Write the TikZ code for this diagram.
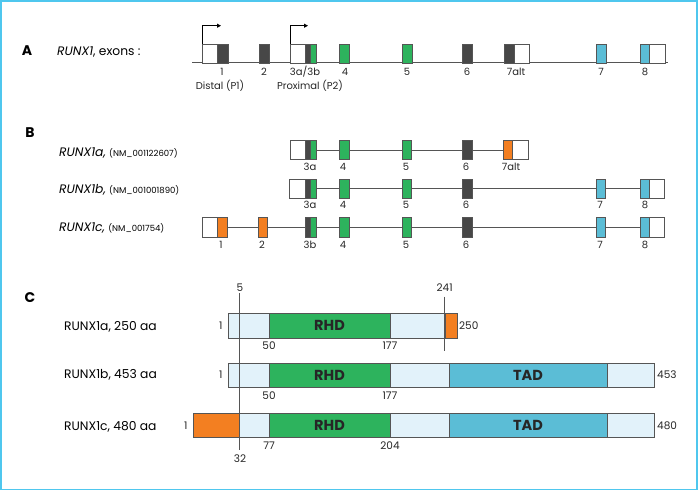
\documentclass[tikz,border=0pt]{standalone}
\usepackage{fontspec}
\setmainfont{Poppins}
\usetikzlibrary{arrows.meta}
\definecolor{dk}{HTML}{474747}
\definecolor{gr}{HTML}{2DB35D}
\definecolor{bl}{HTML}{5BBDD6}
\definecolor{orn}{HTML}{F37F21}
\definecolor{lb}{HTML}{E2F2FA}
\definecolor{frm}{HTML}{4FC7EE}
\definecolor{ln}{HTML}{555555}
\tikzset{
  bx/.style={draw=ln,line width=0.8pt,inner sep=0pt,anchor=north west},
  gline/.style={draw=ln,line width=0.8pt},
  num/.style={font=\fontsize{10}{11}\selectfont,inner sep=0pt,text=black!85},
  lab/.style={font=\fontsize{12.3}{13}\selectfont,inner sep=0pt,anchor=west},
  panel/.style={font=\fontsize{14}{15}\selectfont\bfseries,inner sep=0pt},
  dom/.style={font=\fontsize{14.5}{15}\selectfont\bfseries,inner sep=0pt,text=black!85},
  tss/.style={draw=black,line width=0.8pt,-{Triangle[length=4pt,width=4pt]}}
}
\newcommand\bxa[5]{\node[bx,fill=#4,minimum width=#3pt-#2pt,minimum height=#5pt] (#1) at (#2,\toprow) {};}
\begin{document}
\begin{tikzpicture}[x=1pt,y=-1pt]
\useasboundingbox (0,0) rectangle (700,491);
\draw[frm,line width=1.6pt] (1,1) rectangle (697,489.5);

% ---------------- Panel A ----------------
\node[panel] (pA) at (27,51) {A};
\node[lab] (tA) at (57,52) {\textit{RUNX1}, exons :};
\coordinate (a0) at (192,62.7);
\coordinate (a1) at (668,62.7);
\draw[gline] (a0) -- (a1);
\def\toprow{43.7}
\bxa{A1w}{202}{217}{white}{19}
\bxa{A1d}{217}{228}{dk}{19}
\bxa{A2}{259}{269}{dk}{19}
\bxa{A3w}{290}{305}{white}{19}
\bxa{A3d}{305}{310}{dk}{19}
\bxa{A3g}{310}{316}{gr}{19}
\bxa{A4}{339}{349}{gr}{19}
\bxa{A5}{402}{412}{gr}{19}
\bxa{A6}{462}{472}{dk}{19}
\bxa{A7ad}{504}{514}{dk}{19}
\bxa{A7aw}{514}{529}{white}{19}
\bxa{A7}{596}{606}{bl}{19}
\bxa{A8b}{640}{649}{bl}{19}
\bxa{A8w}{649}{665}{white}{19}
\coordinate (p1) at (202,25.7);
\coordinate (p1e) at (221,25.7);
\coordinate (p2) at (290,25.7);
\coordinate (p2e) at (308,25.7);
\draw[tss] (A1w.north west) -- (p1) -- (p1e);
\draw[tss] (A3w.north west) -- (p2) -- (p2e);
\node[num] (nA1) at (222,72) {1};
\node[num] (nA2) at (264,72) {2};
\node[num] (nA3) at (305,72) {3a/3b};
\node[num] (nA4) at (345,72) {4};
\node[num] (nA5) at (407,72) {5};
\node[num] (nA6) at (467,72) {6};
\node[num] (nA7a) at (516,72) {7alt};
\node[num] (nA7) at (601,72) {7};
\node[num] (nA8) at (645,72) {8};
\node[num] (dP1) at (220,86) {Distal (P1)};
\node[num] (dP2) at (310,86) {Proximal (P2)};

% ---------------- Panel B ----------------
\node[panel] (pB) at (30,133) {B};
\node[lab] (tBa) at (59,153) {\textit{RUNX1a,} {\fontsize{8.5}{9}\selectfont (NM\_001122607)}};
\node[lab] (tBb) at (59,190) {\textit{RUNX1b,} {\fontsize{8.5}{9}\selectfont (NM\_001001890)}};
\node[lab] (tBc) at (59,228) {\textit{RUNX1c,} {\fontsize{8.5}{9}\selectfont (NM\_001754)}};

% row a
\def\toprow{140}
\bxa{a3w}{290}{305}{white}{19.3}
\bxa{a3d}{305}{310}{dk}{19.3}
\bxa{a3g}{310}{316}{gr}{19.3}
\bxa{a4}{339}{349}{gr}{19.3}
\bxa{a5}{402}{411}{gr}{19.3}
\bxa{a6}{462}{472}{dk}{19.3}
\bxa{a7o}{503}{512}{orn}{19.3}
\bxa{a7w}{512}{528}{white}{19.3}
\draw[gline] (a3g.east) -- (a4.west) (a4.east) -- (a5.west) (a5.east) -- (a6.west) (a6.east) -- (a7o.west);
\node[num] at (310,167) (la3) {3a};
\node[num] at (343,167) (la4) {4};
\node[num] at (406,167) (la5) {5};
\node[num] at (466,167) (la6) {6};
\node[num] at (511,167) (la7) {7alt};

% row b
\def\toprow{178.7}
\bxa{b3w}{289}{305}{white}{19}
\bxa{b3d}{305}{310}{dk}{19}
\bxa{b3g}{310}{316}{gr}{19}
\bxa{b4}{339}{349}{gr}{19}
\bxa{b5}{402}{411}{gr}{19}
\bxa{b6}{462}{472}{dk}{19}
\bxa{b7}{596}{605}{bl}{19}
\bxa{b8b}{640}{649}{bl}{19}
\bxa{b8w}{649}{664}{white}{19}
\draw[gline] (b3g.east) -- (b4.west) (b4.east) -- (b5.west) (b5.east) -- (b6.west) (b6.east) -- (b7.west) (b7.east) -- (b8b.west);
\node[num] at (310,205) (lb3) {3a};
\node[num] at (343,205) (lb4) {4};
\node[num] at (406,205) (lb5) {5};
\node[num] at (466,205) (lb6) {6};
\node[num] at (600,205) (lb7) {7};
\node[num] at (645,205) (lb8) {8};

% row c
\def\toprow{217}
\bxa{c1w}{202}{217}{white}{19.5}
\bxa{c1o}{217}{227}{orn}{19.5}
\bxa{c2}{258}{267}{orn}{19.5}
\bxa{c3d}{305}{310}{dk}{19.5}
\bxa{c3g}{310}{316}{gr}{19.5}
\bxa{c4}{339}{349}{gr}{19.5}
\bxa{c5}{402}{411}{gr}{19.5}
\bxa{c6}{462}{472}{dk}{19.5}
\bxa{c7}{596}{605}{bl}{19.5}
\bxa{c8b}{640}{649}{bl}{19.5}
\bxa{c8w}{649}{664}{white}{19.5}
\draw[gline] (c1o.east) -- (c2.west) (c2.east) -- (c3d.west) (c3g.east) -- (c4.west) (c4.east) -- (c5.west) (c5.east) -- (c6.west) (c6.east) -- (c7.west) (c7.east) -- (c8b.west);
\node[num] at (221,245) (lc1) {1};
\node[num] at (262,245) (lc2) {2};
\node[num] at (310,245) (lc3) {3b};
\node[num] at (343,245) (lc4) {4};
\node[num] at (406,245) (lc5) {5};
\node[num] at (466,245) (lc6) {6};
\node[num] at (600,245) (lc7) {7};
\node[num] at (645,245) (lc8) {8};

% ---------------- Panel C ----------------
\node[panel] (pC) at (30,298) {C};
\node[lab] (tCa) at (64,327) {RUNX1a, 250 aa};
\node[lab] (tCb) at (64,375) {RUNX1b, 453 aa};
\node[lab] (tCc) at (64,426.7) {RUNX1c, 480 aa};

\def\toprow{312.7}
\bxa{Ca1}{228}{269}{lb}{25}
\bxa{Ca2}{269}{390}{gr}{25}
\bxa{Ca3}{390}{444.7}{lb}{25}
\bxa{Ca4}{444.7}{456.7}{orn}{25}
\node[dom] (rhdA) at (329.5,325.2) {RHD};

\def\toprow{362.7}
\bxa{Cb1}{228}{269}{lb}{24.6}
\bxa{Cb2}{269}{390}{gr}{24.6}
\bxa{Cb3}{390}{449}{lb}{24.6}
\bxa{Cb4}{449}{607}{bl}{24.6}
\bxa{Cb5}{607}{654}{lb}{24.6}
\node[dom] (rhdB) at (329.5,375) {RHD};
\node[dom] (tadB) at (528,375) {TAD};

\def\toprow{413.3}
\bxa{Cc0}{193.3}{239.3}{orn}{24}
\bxa{Cc1}{239.3}{269}{lb}{24}
\bxa{Cc2}{269}{390}{gr}{24}
\bxa{Cc3}{390}{449}{lb}{24}
\bxa{Cc4}{449}{607}{bl}{24}
\bxa{Cc5}{607}{654}{lb}{24}
\node[dom] (rhdC) at (329.5,425.3) {RHD};
\node[dom] (tadC) at (528,425.3) {TAD};

\coordinate (v5t) at (239.3,293);
\coordinate (v5b) at (239.3,450);
\draw[gline] (v5t) -- (v5b);
\coordinate (v241t) at (444.7,296.7);
\coordinate (v241b) at (444.7,350.7);
\draw[gline] (v241t) -- (v241b);

\def\cfs{\fontsize{10.5}{11}\selectfont}
\node[num,font=\cfs] (n5) at (240,288) {5};
\node[num,font=\cfs] (n32) at (240,459) {32};
\node[num,font=\cfs] (n241) at (444.7,288) {241};
\node[num,font=\cfs] (na1) at (220.7,325.2) {1};
\node[num,font=\cfs] (na50) at (269,346) {50};
\node[num,font=\cfs] (na177) at (390,346) {177};
\node[num,font=\cfs,anchor=west] (na250) at (459,325.2) {250};
\node[num,font=\cfs] (nb1) at (220.7,375) {1};
\node[num,font=\cfs] (nb50) at (269,396) {50};
\node[num,font=\cfs] (nb177) at (390,396) {177};
\node[num,font=\cfs,anchor=west] (nb453) at (657,375) {453};
\node[num,font=\cfs] (nc1) at (185.7,425.3) {1};
\node[num,font=\cfs] (nc77) at (269,445.7) {77};
\node[num,font=\cfs] (nc204) at (390,445.7) {204};
\node[num,font=\cfs,anchor=west] (nc480) at (657,425.3) {480};
\end{tikzpicture}
\end{document}
